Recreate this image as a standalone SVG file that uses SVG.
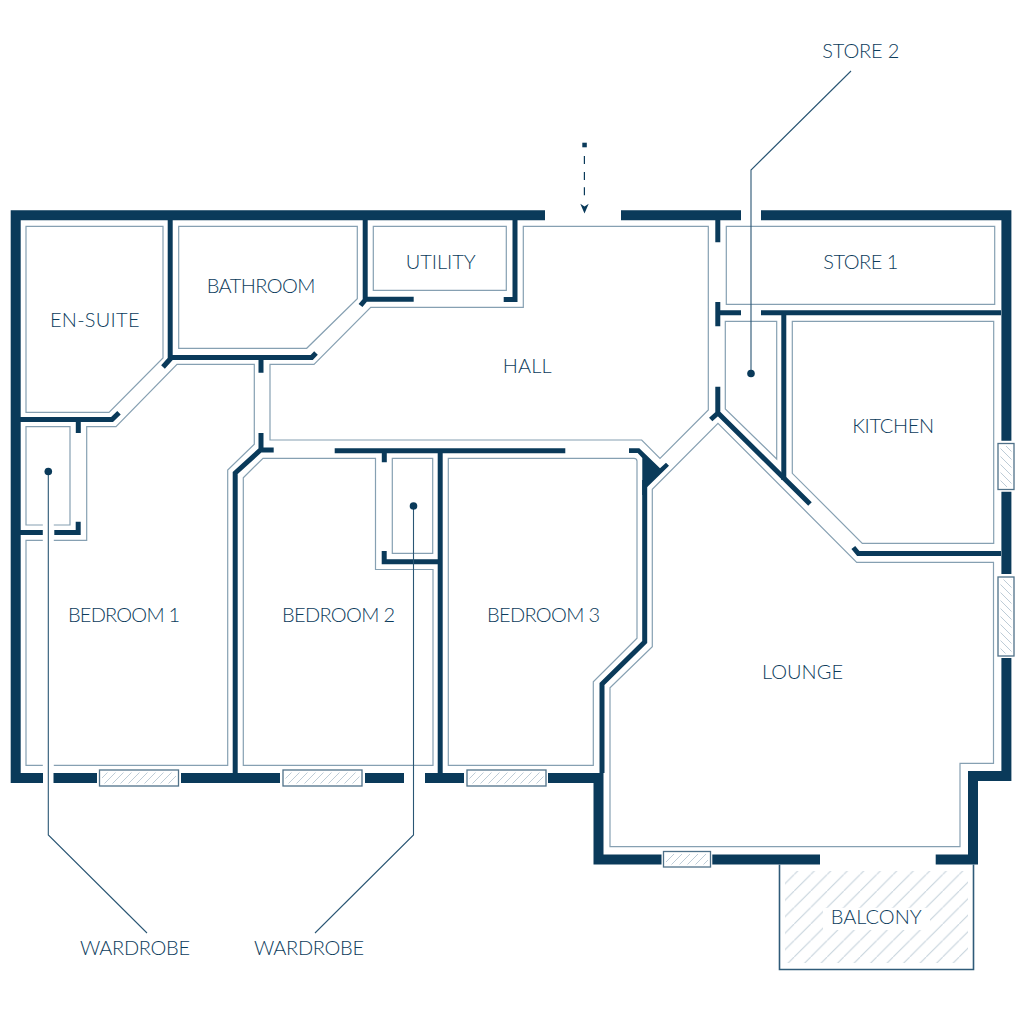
<svg xmlns="http://www.w3.org/2000/svg" width="1024" height="1024" viewBox="0 0 1024 1024">
<style>
.o{fill:none;stroke:#0a3a5a;stroke-width:10;stroke-linejoin:miter}
.w{fill:none;stroke:#0a3a5a;stroke-width:5;stroke-linejoin:miter}
.r{fill:none;stroke:#86a0b2;stroke-width:1.2}
.t{font-family:"Lato","Open Sans","Liberation Sans",sans-serif;font-weight:300;font-size:20px;fill:#0c3c5c}
.l{fill:none;stroke:#2a5674;stroke-width:1.1}
.win{fill:#fff;stroke:#4f7189;stroke-width:1.3}
.d{fill:#0a3a5a}
</style>
<defs>
<pattern id="hs" patternUnits="userSpaceOnUse" width="8" height="8"><path d="M-1,9L9,-1M-1,1L1,-1M7,9L9,7" stroke="#b6c6d2" stroke-width=".9" fill="none"/></pattern>
<pattern id="hb" patternUnits="userSpaceOnUse" width="8" height="8"><path d="M-1,-1L9,9M-1,7L1,9M7,-1L9,1" stroke="#b6c6d2" stroke-width=".9" fill="none"/></pattern>
<pattern id="hl" patternUnits="userSpaceOnUse" width="16.5" height="16.5" patternTransform="translate(2.2,0)"><path d="M-1,17.5L17.5,-1" stroke="#c3d0da" stroke-width="1" fill="none"/></pattern>
</defs>
<rect width="1024" height="1024" fill="#fff"/>

<g id="walls">
<path class="o" d="M545,215.3H15.7V778H43"/>
<path class="o" d="M53.5,778H97M181,778H280M365,778H404M425,778H464M548,778H598.5V859.5H661.5M712.3,859.5H820M935.7,859.5H973V776H1006.4V658M1006.4,574V491.7M1006.4,440.7V215.3H761M741,215.3H621"/>
<path class="w" d="M170.2,220V357.5H311.7L316,353M172,357L163,367M261,357.5V372.7"/>
<path class="w" d="M20,419.5H112L119,412.8M78.3,419.5V433"/>
<path class="w" d="M20,532.5H43M54.3,532.5H78.2V521.7"/>
<path class="w" d="M365.2,220V299.3H413.7M366,299L360.5,305.5"/>
<path class="w" d="M515,220V299.5H503.7"/>
<path class="w" d="M717.8,220V242.3M717.8,302V326.3M717.8,312.8H741M761,312.8H1001M783.8,313V480"/>
<path class="w" d="M717.8,386.7V413M718,413L810,504M718,413L710.7,419.5"/>
<path class="w" d="M1001,553.5H858.3L853.3,547.5"/>
<path class="w" d="M235.2,773V473L260.5,450H273.7M261,433V450"/>
<path class="w" d="M334.7,450.7H565.3M384.3,450.7V462.3M440.2,450.7V773"/>
<path class="w" d="M384.2,551V561.7H440"/>
<path class="w" d="M602,773V684L644.7,642V480"/>
<path class="d" d="M629,448.2H639.3L660,468.3L666,462.7L669,465.7L647,487.3V495H642.3V458L637.7,453H629Z"/>
</g>

<g id="windows">
<rect class="win" x="99.5" y="770" width="79" height="16"/><rect x="102" y="772.5" width="74" height="11" fill="url(#hs)"/>
<rect class="win" x="283" y="770" width="79" height="16"/><rect x="285.5" y="772.5" width="74" height="11" fill="url(#hs)"/>
<rect class="win" x="467" y="770" width="79" height="16"/><rect x="469.5" y="772.5" width="74" height="11" fill="url(#hs)"/>
<rect class="win" x="663.5" y="851.5" width="47" height="15.5"/><rect x="666" y="854" width="42" height="10.5" fill="url(#hs)"/>
<rect class="win" x="998" y="443.5" width="16" height="46"/><rect x="1000.5" y="446" width="11" height="41" fill="url(#hb)"/>
<rect class="win" x="998" y="577" width="16" height="79"/><rect x="1000.5" y="579.5" width="11" height="74" fill="url(#hb)"/>
</g>

<g id="en-suite"><path class="r" d="M26,226.3H163V358L109,412.3H26Z"/><text class="t" x="50" y="327.3" textLength="89.5">EN-SUITE</text></g>
<g id="bathroom"><path class="r" d="M178.7,226.3H357.3V298.7L306.7,348.3H178.7Z"/><text class="t" x="206.7" y="293.3" textLength="108.6">BATHROOM</text></g>
<g id="utility"><path class="r" d="M373.3,226.3H506.3V290.3H373.3Z"/><text class="t" x="405.7" y="268.7" textLength="70">UTILITY</text></g>
<g id="hall"><path class="r" d="M523.3,226.3H708.3V410L660,458.3L641.7,440H270V364.3H314L370.7,307.3H523.3Z"/><text class="t" x="502.7" y="372.7" textLength="49">HALL</text></g>
<g id="store-1"><path class="r" d="M726.3,226.3H994.7V304.3H726.3Z"/><text class="t" x="823.3" y="269" textLength="75">STORE 1</text></g>
<g id="store-2"><path class="r" d="M725.3,321.3H776.7V459L725.3,409Z"/><text class="t" x="822.3" y="57.7" textLength="77">STORE 2</text></g>
<g id="kitchen"><path class="r" d="M792.3,321.3H993.7V543.3H862.3L792.3,473.3Z"/><text class="t" x="852.3" y="432.7" textLength="81.7">KITCHEN</text></g>
<g id="bedroom-1"><path class="r" d="M26,540.3H86.7V426.7H116L177,364.3H254.3V444.3L227.7,470V765.3H26Z"/><text class="t" x="68" y="622" textLength="112">BEDROOM 1</text></g>
<g id="wardrobe-1"><path class="r" d="M26,426.7H70V525H26Z"/><text class="t" x="80" y="954.7" textLength="110">WARDROBE</text></g>
<g id="bedroom-2"><path class="r" d="M243.3,477.7L263,458.3H375.5V569.5H433V765.3H243.3Z"/><text class="t" x="282" y="622" textLength="113">BEDROOM 2</text></g>
<g id="wardrobe-2"><path class="r" d="M392.3,458.3H432.7V553.3H392.3Z"/><text class="t" x="254" y="954.7" textLength="110">WARDROBE</text></g>
<g id="bedroom-3"><path class="r" d="M448.3,458.3H634Q637,458.3 637,461.3V638.3L593.3,681.7V765.3H448.3Z"/><text class="t" x="487" y="622" textLength="113">BEDROOM 3</text></g>
<g id="lounge"><path class="r" d="M718,423.3L856.7,562.3H993.5V763.3H960V846.7H610V687.7L652.3,646.7V489.3Z"/><text class="t" x="762" y="679" textLength="81">LOUNGE</text></g>
<g id="balcony">
<rect x="785" y="871" width="183" height="92" fill="url(#hl)"/>
<rect x="823" y="908" width="107" height="22" fill="#fff"/>
<path d="M779.5,864.5V969.5H973.5V864.5" fill="none" stroke="#2f5b79" stroke-width="1.6"/>
<text class="t" x="830.7" y="924.3" textLength="91">BALCONY</text>
</g>

<g id="connectors">
<path d="M48.3,522V770" stroke="#fff" stroke-width="11" fill="none"/>
<path class="l" d="M751,373.5V170L851,71"/>
<path class="l" d="M48.3,471.5V835L147,933"/>
<path class="l" d="M413.5,506V835L315,933"/>
<circle class="d" cx="751" cy="373.5" r="3.8"/>
<circle class="d" cx="48.3" cy="471.5" r="3.8"/>
<circle class="d" cx="413.5" cy="506" r="3.8"/>
<rect class="d" x="582.3" y="142.7" width="4.5" height="4.6"/>
<path d="M584.4,156V164M584.4,172V180M584.4,187.3V195.3" stroke="#0a3a5a" stroke-width="1.2" fill="none"/>
<path class="d" d="M584.5,213.5L580.3,203.8L584.5,206.5L588.7,203.8Z"/>
</g>
</svg>
